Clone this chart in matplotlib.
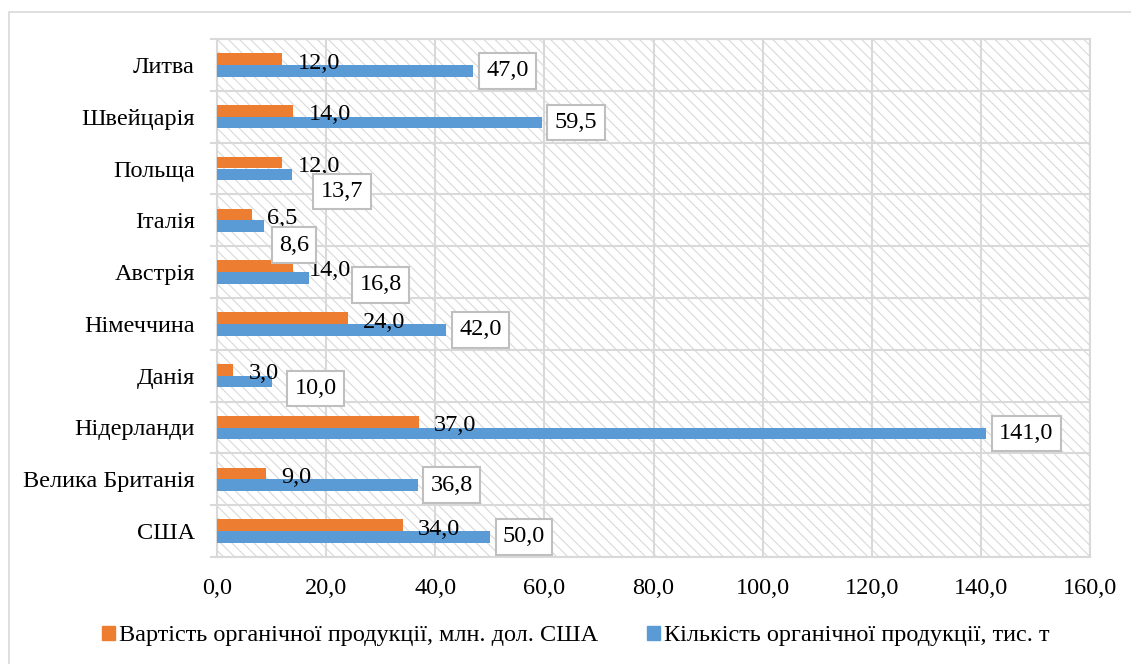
import matplotlib.pyplot as plt
from matplotlib.patches import Rectangle
import numpy as np

plt.rcParams['font.family'] = ['Liberation Serif', 'DejaVu Serif']
plt.rcParams['hatch.linewidth'] = 0.8

# data, top to bottom as shown on the chart
countries = ["Литва", "Швейцарія", "Польща", "Італія", "Австрія",
             "Німеччина", "Данія", "Нідерланди", "Велика Британія", "США"]
value_musd = [12.0, 14.0, 12.0, 6.5, 14.0, 24.0, 3.0, 37.0, 9.0, 34.0]
amount_kt = [47.0, 59.5, 13.7, 8.6, 16.8, 42.0, 10.0, 141.0, 36.8, 50.0]
xticks = [0, 20, 40, 60, 80, 100, 120, 140, 160]

series_names = ["Вартість органічної продукції, млн. дол. США",
                "Кількість органічної продукції, тис. т"]

ORANGE = "#ED7D31"
BLUE = "#5B9BD5"
GRID = "#d9d9d9"
FS = 17.5

# extra shift (px) of some boxed labels, as placed in the original
LABEL_NUDGE = {"Польща": (16, -17), "Італія": (2, -19), "Австрія": (38, -7), "Данія": (10, -7)}


def fmt(v):
    return f"{v:.1f}".replace(".", ",")


fig = plt.figure(figsize=(11.31, 6.64), dpi=100)
ax = fig.add_axes([217 / 1131, 1 - 557 / 664, (1090 - 217) / 1131, (557 - 39) / 664])

# outer chart border
fig.patches.append(Rectangle((8.5 / 1131, -0.1), 1.2, 1.1 - 12.5 / 664,
                             transform=fig.transFigure, fill=False,
                             edgecolor=GRID, linewidth=1.2))

y = np.arange(len(countries))
h = 0.225
ax.barh(y - h / 2, value_musd, height=h, color=ORANGE, zorder=3)
ax.barh(y + h / 2, amount_kt, height=h, color=BLUE, zorder=3)

# hatched plot area background
ax.add_patch(Rectangle((0, 0), 1, 1, transform=ax.transAxes, facecolor="white",
                       edgecolor=GRID, hatch="\\\\\\", linewidth=0, zorder=0))

for i, name in enumerate(countries):
    ax.annotate(fmt(value_musd[i]), (value_musd[i], y[i] - h / 2),
                xytext=(15, -4), textcoords="offset pixels",
                ha="left", va="center", fontsize=FS, zorder=5)
    dx, dy = LABEL_NUDGE.get(name, (0, 0))
    ax.annotate(fmt(amount_kt[i]), (amount_kt[i], y[i] + h / 2),
                xytext=(13 + dx, dy), textcoords="offset pixels",
                ha="left", va="center", fontsize=FS, zorder=6,
                bbox=dict(boxstyle="square,pad=0.3", facecolor="white",
                          edgecolor="#bfbfbf", linewidth=1.5))

ax.set_xlim(0, 160)
ax.set_ylim(len(countries) - 0.5, -0.5)
ax.set_xticks(xticks, labels=[fmt(t) for t in xticks])
ax.set_yticks(y, labels=countries)
ax.set_yticks(np.arange(len(countries) + 1) - 0.5, minor=True)

ax.tick_params(axis="x", length=0, pad=15, labelsize=FS)
ax.tick_params(axis="y", which="major", length=0, pad=16, labelsize=FS)
ax.tick_params(axis="y", which="minor", length=5, width=1.5, color=GRID)

ax.grid(axis="x", which="major", color=GRID, linewidth=1.5, zorder=1)
ax.grid(axis="y", which="minor", color=GRID, linewidth=1.5, zorder=1)
ax.set_axisbelow(True)
for s in ax.spines.values():
    s.set_color(GRID)
    s.set_linewidth(1.5)

handles = [Rectangle((0, 0), 1, 1, color=ORANGE), Rectangle((0, 0), 1, 1, color=BLUE)]
fig.legend(handles, series_names, loc="center", bbox_to_anchor=(0.509, 1 - 636 / 664),
           ncol=2, frameon=False, fontsize=FS, handlelength=0.55, handleheight=0.55,
           handletextpad=0.15, columnspacing=2.0)

fig.savefig("out.png", dpi=100)
